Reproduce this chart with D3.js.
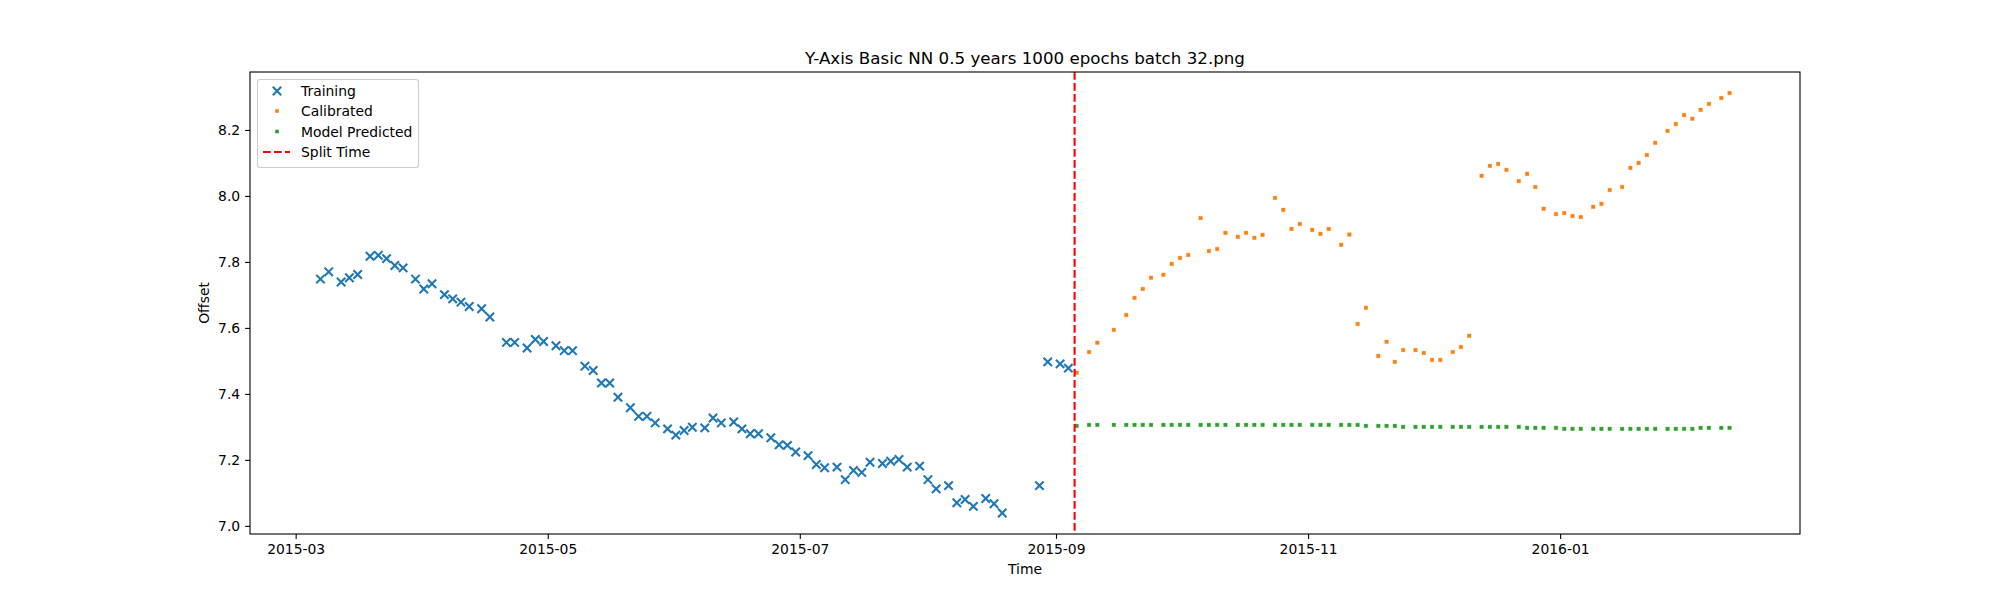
<!DOCTYPE html>
<html>
<head>
<meta charset="utf-8">
<script src="https://cdn.jsdelivr.net/npm/d3@7"></script>
<style>
	body { margin: 0; background: white; }
	text { font-family: "DejaVu Sans", sans-serif; fill: #000; }
</style>
</head>
<body>
<div id="chart"></div>
<script>
const trainDates = ['2015-03-07', '2015-03-09', '2015-03-12', '2015-03-14', '2015-03-16', '2015-03-19', '2015-03-21', '2015-03-23', '2015-03-25', '2015-03-27',
	'2015-03-30', '2015-04-01', '2015-04-03', '2015-04-06', '2015-04-08', '2015-04-10', '2015-04-12', '2015-04-15', '2015-04-17', '2015-04-21',
	'2015-04-23', '2015-04-26', '2015-04-28', '2015-04-30', '2015-05-03', '2015-05-05', '2015-05-07', '2015-05-10', '2015-05-12', '2015-05-14',
	'2015-05-16', '2015-05-18', '2015-05-21', '2015-05-23', '2015-05-25', '2015-05-27', '2015-05-30', '2015-06-01', '2015-06-03', '2015-06-05',
	'2015-06-08', '2015-06-10', '2015-06-12', '2015-06-15', '2015-06-17', '2015-06-19', '2015-06-21', '2015-06-24', '2015-06-26', '2015-06-28',
	'2015-06-30', '2015-07-03', '2015-07-05', '2015-07-07', '2015-07-10', '2015-07-12', '2015-07-14', '2015-07-16', '2015-07-18', '2015-07-21',
	'2015-07-23', '2015-07-25', '2015-07-27', '2015-07-30', '2015-08-01', '2015-08-03', '2015-08-06', '2015-08-08', '2015-08-10', '2015-08-12',
	'2015-08-15', '2015-08-17', '2015-08-19', '2015-08-28', '2015-08-30', '2015-09-02', '2015-09-04']
const trainValues = [7.748, 7.770, 7.739, 7.752, 7.762, 7.817, 7.820, 7.810, 7.789, 7.782,
	7.748, 7.718, 7.734, 7.701, 7.688, 7.678, 7.665, 7.658, 7.633, 7.556,
	7.556, 7.539, 7.565, 7.559, 7.546, 7.531, 7.531, 7.484, 7.471, 7.433,
	7.433, 7.390, 7.358, 7.332, 7.332, 7.312, 7.294, 7.275, 7.289, 7.299,
	7.297, 7.327, 7.312, 7.315, 7.294, 7.279, 7.279, 7.267, 7.246, 7.244,
	7.224, 7.213, 7.186, 7.176, 7.178, 7.140, 7.168, 7.162, 7.193, 7.189,
	7.196, 7.201, 7.178, 7.181, 7.140, 7.112, 7.122, 7.070, 7.080, 7.059,
	7.083, 7.067, 7.039, 7.122, 7.497, 7.491, 7.478]

const testDates = ['2015-09-06', '2015-09-09', '2015-09-11', '2015-09-15', '2015-09-18', '2015-09-20', '2015-09-22', '2015-09-24', '2015-09-27', '2015-09-29',
	'2015-10-01', '2015-10-03', '2015-10-06', '2015-10-08', '2015-10-10', '2015-10-12', '2015-10-15', '2015-10-17', '2015-10-19', '2015-10-21',
	'2015-10-24', '2015-10-26', '2015-10-28', '2015-10-30', '2015-11-02', '2015-11-04', '2015-11-06', '2015-11-09', '2015-11-11', '2015-11-13',
	'2015-11-15', '2015-11-18', '2015-11-20', '2015-11-22', '2015-11-24', '2015-11-27', '2015-11-29', '2015-12-01', '2015-12-03', '2015-12-06',
	'2015-12-08', '2015-12-10', '2015-12-13', '2015-12-15', '2015-12-17', '2015-12-19', '2015-12-22', '2015-12-24', '2015-12-26', '2015-12-28',
	'2015-12-31', '2016-01-02', '2016-01-04', '2016-01-06', '2016-01-09', '2016-01-11', '2016-01-13', '2016-01-16', '2016-01-18', '2016-01-20',
	'2016-01-22', '2016-01-24', '2016-01-27', '2016-01-29', '2016-01-31', '2016-02-02', '2016-02-04', '2016-02-06', '2016-02-09', '2016-02-11']
const calibratedValues = [7.464, 7.527, 7.555, 7.594, 7.639, 7.691, 7.718, 7.752, 7.761, 7.794,
	7.812, 7.821, 7.933, 7.833, 7.839, 7.888, 7.876, 7.888, 7.873, 7.882,
	7.994, 7.958, 7.900, 7.915, 7.897, 7.885, 7.900, 7.852, 7.883, 7.612,
	7.661, 7.515, 7.558, 7.497, 7.533, 7.533, 7.524, 7.503, 7.503, 7.527,
	7.542, 7.576, 8.061, 8.091, 8.097, 8.079, 8.045, 8.067, 8.027, 7.961,
	7.945, 7.948, 7.939, 7.936, 7.967, 7.976, 8.018, 8.027, 8.085, 8.100,
	8.124, 8.161, 8.197, 8.218, 8.245, 8.234, 8.261, 8.279, 8.297, 8.312]
const predictedValues = [7.303, 7.306, 7.306, 7.306, 7.306, 7.306, 7.306, 7.306, 7.306, 7.306,
	7.306, 7.306, 7.306, 7.306, 7.306, 7.306, 7.306, 7.306, 7.306, 7.306,
	7.306, 7.306, 7.306, 7.306, 7.306, 7.306, 7.306, 7.306, 7.306, 7.306,
	7.303, 7.303, 7.303, 7.303, 7.300, 7.300, 7.300, 7.300, 7.300, 7.300,
	7.300, 7.300, 7.300, 7.300, 7.300, 7.300, 7.300, 7.297, 7.297, 7.297,
	7.297, 7.294, 7.294, 7.294, 7.294, 7.294, 7.294, 7.294, 7.294, 7.294,
	7.294, 7.294, 7.294, 7.294, 7.294, 7.294, 7.297, 7.297, 7.297, 7.297]

const splitTime = '2015-09-05T12:00'
const xTickLabels = ['2015-03', '2015-05', '2015-07', '2015-09', '2015-11', '2016-01']
const yTickLabels = ['7.0', '7.2', '7.4', '7.6', '7.8', '8.0', '8.2']
const legendLabels = ['Training', 'Calibrated', 'Model Predicted', 'Split Time']

const W = 2000, H = 600
const mLeft = 250, mRight = 1800, mTop = 72, mBottom = 534
const parse = d3.isoParse

const svg = d3.select('#chart')
	.append('svg')
	.attr('width', W)
	.attr('height', H)

// matplotlib style 5% margins around the data
const allDates = trainDates.concat(testDates).map(parse)
const allVals = trainValues.concat(calibratedValues, predictedValues)
const [d0, d1] = d3.extent(allDates)
const dPad = (d1 - d0) * 0.05
const [v0, v1] = d3.extent(allVals)
const vPad = (v1 - v0) * 0.05

const x = d3.scaleTime()
	.domain([new Date(+d0 - dPad), new Date(+d1 + dPad)])
	.range([mLeft, mRight])
const y = d3.scaleLinear()
	.domain([v0 - vPad, v1 + vPad])
	.range([mBottom, mTop])

const xAxis = d3.axisBottom(x)
	.tickValues(xTickLabels.map(s => parse(s + '-01')))
	.tickFormat(d3.timeFormat('%Y-%m'))
	.tickSizeOuter(0)
	.tickSize(4.9)
	.tickPadding(4.9)
const yAxis = d3.axisLeft(y)
	.tickValues(yTickLabels.map(Number))
	.tickFormat(d3.format('.1f'))
	.tickSizeOuter(0)
	.tickSize(4.9)
	.tickPadding(4.9)

const gx = svg.append('g')
	.attr('transform', 'translate(0,' + mBottom + ')')
	.call(xAxis)
const gy = svg.append('g')
	.attr('transform', 'translate(' + mLeft + ',0)')
	.call(yAxis)
for (const g of [gx, gy]) {
	g.select('.domain').remove()
	g.selectAll('line').attr('stroke', '#000').attr('stroke-width', 1.1)
	g.selectAll('text').attr('font-size', 13.9).attr('font-family', 'DejaVu Sans')
}

// training: x markers
const ms = 4.2
const trainG = svg.append('g')
for (let i = 0; i < trainDates.length; i++) {
	const cx = x(parse(trainDates[i])), cy = y(trainValues[i])
	trainG.append('path')
		.attr('d', 'M' + (cx - ms) + ',' + (cy - ms) + 'L' + (cx + ms) + ',' + (cy + ms) +
			'M' + (cx - ms) + ',' + (cy + ms) + 'L' + (cx + ms) + ',' + (cy - ms))
		.attr('stroke', '#1f77b4')
		.attr('stroke-width', 2.1)
		.attr('fill', 'none')
}

// calibrated and predicted: small square points
const ps = 3.6
function drawPoints(values, color) {
	svg.append('g')
		.selectAll('rect')
		.data(values)
		.join('rect')
		.attr('x', (d, i) => x(parse(testDates[i])) - ps / 2)
		.attr('y', d => y(d) - ps / 2)
		.attr('width', ps)
		.attr('height', ps)
		.attr('fill', color)
		.attr('stroke', color)
		.attr('stroke-opacity', 0.35)
		.attr('stroke-width', 0.8)
}
drawPoints(calibratedValues, '#ff7f0e')
drawPoints(predictedValues, '#2ca02c')

// split time line
svg.append('line')
	.attr('x1', x(parse(splitTime)))
	.attr('x2', x(parse(splitTime)))
	.attr('y1', mTop)
	.attr('y2', mBottom)
	.attr('stroke', 'red')
	.attr('stroke-width', 2.1)
	.attr('stroke-dasharray', '7.7,3.3')

// frame
svg.append('rect')
	.attr('x', mLeft)
	.attr('y', mTop)
	.attr('width', mRight - mLeft)
	.attr('height', mBottom - mTop)
	.attr('fill', 'none')
	.attr('stroke', '#000')
	.attr('stroke-width', 1.1)

// labels
svg.append('text')
	.attr('x', (mLeft + mRight) / 2)
	.attr('y', 63.5)
	.attr('text-anchor', 'middle')
	.attr('font-size', 16.7)
	.text('Y-Axis Basic NN 0.5 years 1000 epochs batch 32.png')
svg.append('text')
	.attr('x', (mLeft + mRight) / 2)
	.attr('y', 574)
	.attr('text-anchor', 'middle')
	.attr('font-size', 13.9)
	.text('Time')
svg.append('text')
	.attr('transform', 'translate(209,' + (mTop + mBottom) / 2 + ') rotate(-90)')
	.attr('text-anchor', 'middle')
	.attr('font-size', 13.9)
	.text('Offset')

// legend
const lg = svg.append('g')
lg.append('rect')
	.attr('x', 257.5)
	.attr('y', 79.5)
	.attr('width', 161)
	.attr('height', 88)
	.attr('rx', 2.5)
	.attr('fill', 'white')
	.attr('fill-opacity', 0.8)
	.attr('stroke', '#cccccc')
	.attr('stroke-width', 1.1)
const rowY = [91, 111, 131.5, 152]
legendLabels.forEach((t, i) => {
	lg.append('text')
		.attr('x', 301)
		.attr('y', rowY[i] + 5)
		.attr('font-size', 13.9)
		.text(t)
})
lg.append('path')
	.attr('d', 'M' + (277 - ms) + ',' + (rowY[0] - ms) + 'L' + (277 + ms) + ',' + (rowY[0] + ms) +
		'M' + (277 - ms) + ',' + (rowY[0] + ms) + 'L' + (277 + ms) + ',' + (rowY[0] - ms))
	.attr('stroke', '#1f77b4')
	.attr('stroke-width', 2.1)
const legendColors = ['#ff7f0e', '#2ca02c']
legendColors.forEach((c, i) => {
	lg.append('rect')
		.attr('x', 277 - ps / 2)
		.attr('y', rowY[i + 1] - ps / 2)
		.attr('width', ps)
		.attr('height', ps)
		.attr('fill', c)
})
lg.append('line')
	.attr('x1', 263)
	.attr('x2', 290)
	.attr('y1', rowY[3])
	.attr('y2', rowY[3])
	.attr('stroke', 'red')
	.attr('stroke-width', 2.1)
	.attr('stroke-dasharray', '7.7,3.3')
</script>
</body>
</html>
